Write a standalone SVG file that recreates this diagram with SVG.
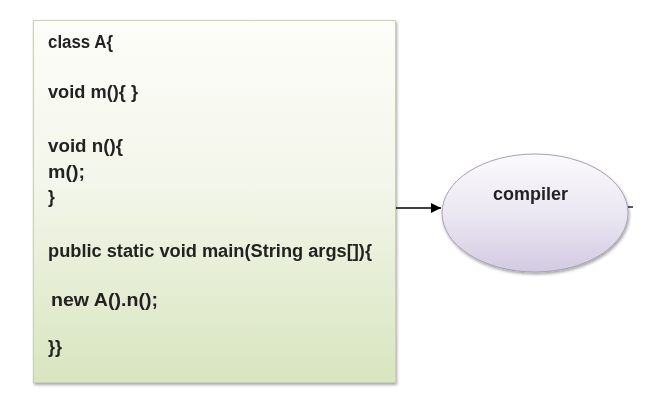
<svg xmlns="http://www.w3.org/2000/svg" width="665" height="409" viewBox="0 0 665 409">
<defs>
<linearGradient id="gBox" x1="0" y1="0" x2="0" y2="1">
<stop offset="0" stop-color="#fdfdf9"/>
<stop offset="0.45" stop-color="#f3f6ea"/>
<stop offset="1" stop-color="#d8e5bf"/>
</linearGradient>
<linearGradient id="gEll" x1="0" y1="0" x2="0" y2="1">
<stop offset="0" stop-color="#fbfafd"/>
<stop offset="0.5" stop-color="#ebe7f2"/>
<stop offset="1" stop-color="#d3cbe2"/>
</linearGradient>
<filter id="sh" x="-10%" y="-10%" width="120%" height="120%">
<feGaussianBlur in="SourceAlpha" stdDeviation="1.5"/>
<feOffset dx="1" dy="2"/>
<feComponentTransfer><feFuncA type="linear" slope="0.35"/></feComponentTransfer>
<feMerge><feMergeNode/><feMergeNode in="SourceGraphic"/></feMerge>
</filter>
<marker id="arr" viewBox="0 0 10 10" refX="10" refY="5" markerWidth="10" markerHeight="10" markerUnits="userSpaceOnUse" orient="auto">
<path d="M0,0 L10,5 L0,10 z" fill="#000"/>
</marker>
</defs>
<style>
.code{font-family:"Liberation Sans",Arial,sans-serif;font-weight:bold;font-size:17.5px;fill:#222}
.lbl{font-family:"Liberation Sans",Arial,sans-serif;font-weight:bold;font-size:17.5px;fill:#222}
.edge{stroke:#000;stroke-width:1.3;fill:none}
</style>
<rect width="665" height="409" fill="#fff"/>
<g id="code-box" filter="url(#sh)">
<rect x="33.5" y="20.5" width="362" height="362" fill="url(#gBox)" stroke="#c8d0b6" stroke-width="1"/>
<text class="code" x="48" y="48" textLength="65" lengthAdjust="spacingAndGlyphs">class A{</text>
<text class="code" x="48" y="98" textLength="90" lengthAdjust="spacingAndGlyphs">void m(){ }</text>
<text class="code" x="48" y="152" textLength="75" lengthAdjust="spacingAndGlyphs">void n(){</text>
<text class="code" x="48" y="178" textLength="37" lengthAdjust="spacingAndGlyphs">m();</text>
<text class="code" x="48" y="203">}</text>
<text class="code" x="48" y="257" textLength="324" lengthAdjust="spacingAndGlyphs">public static void main(String args[]){</text>
<text class="code" x="51" y="306" textLength="107" lengthAdjust="spacingAndGlyphs">new A().n();</text>
<text class="code" x="48" y="353" textLength="14" lengthAdjust="spacingAndGlyphs">}}</text>
</g>
<g id="compiler" filter="url(#sh)">
<ellipse cx="535" cy="213" rx="93" ry="59" fill="url(#gEll)" stroke="#a79fb5" stroke-width="1"/>
<text class="lbl" x="493" y="200" textLength="75" lengthAdjust="spacingAndGlyphs">compiler</text>
</g>
<g id="connectors">
<line class="edge" x1="396" y1="208" x2="441" y2="208" marker-end="url(#arr)"/>
<line class="edge" x1="628" y1="207" x2="633" y2="207"/>
</g>
</svg>
